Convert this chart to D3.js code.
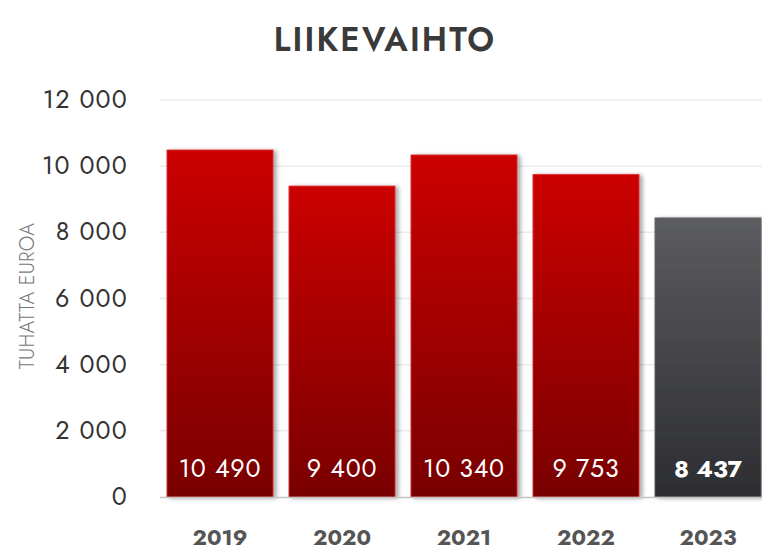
<!DOCTYPE html>
<html><head><meta charset="utf-8">
<script src="https://cdn.jsdelivr.net/npm/d3@7"></script>
<style>body{margin:0;background:#fff}svg{display:block}</style>
</head><body><svg id="c" width="762" height="554"></svg>
<script>
const years = ["2019","2020","2021","2022","2023"];
const values = [10490, 9400, 10340, 9753, 8437];
const valueLabels = ["10 490","9 400","10 340","9 753","8 437"];
const yTicks = [0,2000,4000,6000,8000,10000,12000];
const yTickLabels = ["0","2 000","4 000","6 000","8 000","10 000","12 000"];

const svg = d3.select("#c");
const font = "Jost, Lato, 'Open Sans', sans-serif";
const x = d3.scaleBand().domain(years).range([159, 769]).paddingInner(0.13).paddingOuter(0.065);
const y = d3.scaleLinear().domain([0, 12000]).range([497, 100]);

const defs = svg.append("defs");
const gr = defs.append("linearGradient").attr("id","gr").attr("x1",0).attr("y1",0).attr("x2",0).attr("y2",1);
gr.append("stop").attr("offset","0%").attr("stop-color","#cc0000");
gr.append("stop").attr("offset","100%").attr("stop-color","#780000");
const gg = defs.append("linearGradient").attr("id","gg").attr("x1",0).attr("y1",0).attr("x2",0).attr("y2",1);
gg.append("stop").attr("offset","0%").attr("stop-color","#5b5c60");
gg.append("stop").attr("offset","100%").attr("stop-color","#2c2d31");
const f = defs.append("filter").attr("id","sh").attr("x","-10%").attr("y","-10%").attr("width","130%").attr("height","130%");
f.append("feDropShadow").attr("dx",3).attr("dy",1).attr("stdDeviation",2).attr("flood-color","#000").attr("flood-opacity",0.35);

// gridlines
svg.append("g").selectAll("line").data(yTicks.slice(1)).join("line")
  .attr("x1",160).attr("x2",762).attr("y1",d=>y(d)).attr("y2",d=>y(d))
  .attr("stroke","#ebebeb").attr("stroke-width",1.5);

// y tick labels
svg.append("g").selectAll("text").data(yTicks).join("text")
  .attr("x",128).attr("y",d=>y(d)+8).attr("text-anchor","end")
  .attr("font-family",font).attr("font-size",25).attr("font-weight",400).attr("fill","#333")
  .attr("letter-spacing",1.2)
  .text((d,i)=>yTickLabels[i]);

// y axis title
svg.append("text").attr("transform","translate(34,296) rotate(-90)").attr("text-anchor","middle")
  .attr("font-family",font).attr("font-size",20).attr("font-weight",300).attr("fill","#777")
  .attr("letter-spacing",0.3).text("TUHATTA EUROA");

// bars
svg.append("g").selectAll("rect").data(years).join("rect")
  .attr("x",d=>x(d)).attr("width",x.bandwidth())
  .attr("y",(d,i)=>y(values[i])).attr("height",(d,i)=>y(0)-y(values[i]))
  .attr("fill",(d,i)=>i===4?"url(#gg)":"url(#gr)")
  .attr("stroke",(d,i)=>i===4?"#6a6b6f":"#e23a3a").attr("stroke-width",0.8)
  .attr("filter","url(#sh)");

// baseline
svg.append("line").attr("x1",160).attr("x2",762).attr("y1",y(0)+0.5).attr("y2",y(0)+0.5)
  .attr("stroke","#c4c4c4").attr("stroke-width",1.5);

// value labels
svg.append("g").selectAll("text").data(years).join("text")
  .attr("x",d=>x(d)+x.bandwidth()/2).attr("y",477).attr("text-anchor","middle")
  .attr("font-family",font).attr("font-size",(d,i)=>i===4?24:25).attr("fill","#fff")
  .attr("font-weight",(d,i)=>i===4?"bold":400)
  .attr("letter-spacing",(d,i)=>i===4?0:0.8)
  .text((d,i)=>valueLabels[i]);

// x labels
svg.append("g").selectAll("text").data(years).join("text")
  .attr("x",d=>x(d)+x.bandwidth()/2).attr("y",545).attr("text-anchor","middle")
  .attr("font-family",font).attr("font-size",22).attr("font-weight","bold").attr("fill","#555")
  .text(d=>d);

// title
svg.append("text").attr("x",385).attr("y",51).attr("text-anchor","middle")
  .attr("font-family",font).attr("font-size",33).attr("font-weight",600).attr("fill","#3a3a3a")
  .attr("letter-spacing",2.2).text("LIIKEVAIHTO");
</script></body></html>
